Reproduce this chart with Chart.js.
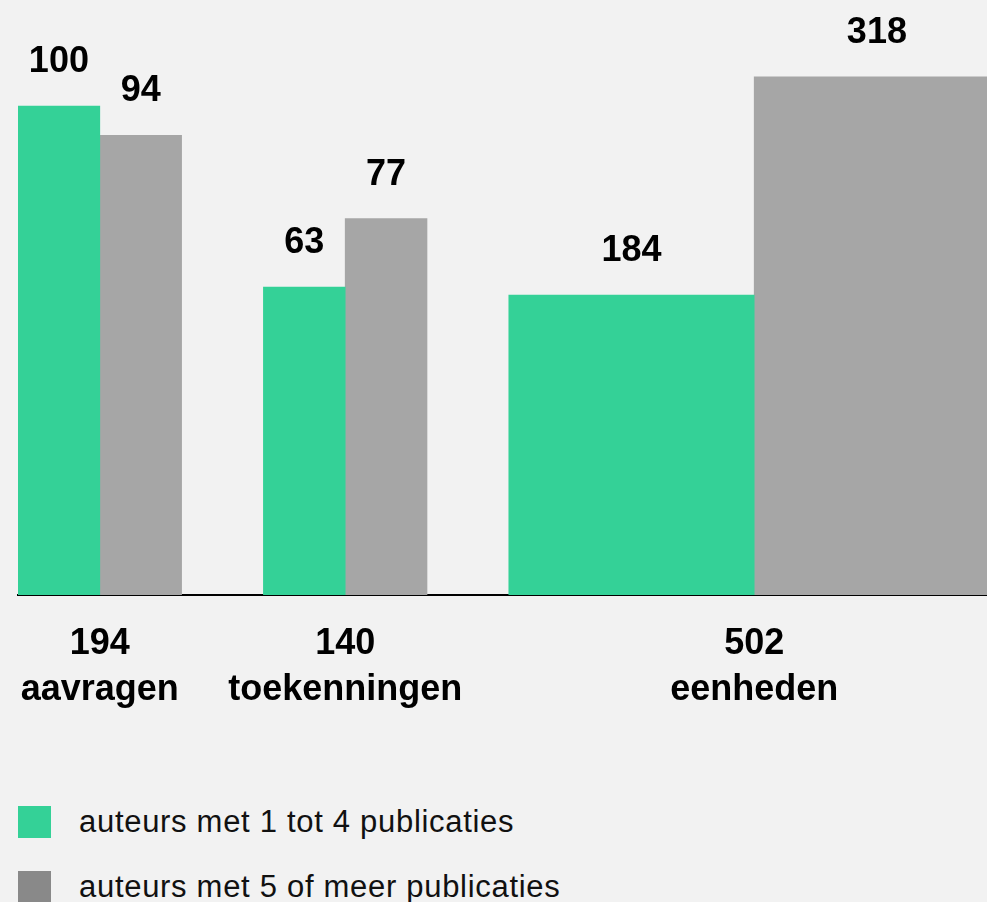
<!DOCTYPE html>
<html lang="nl">
<head>
<meta charset="utf-8">
<title>Auteurs en publicaties</title>
<script src="https://cdn.jsdelivr.net/npm/chart.js@4.4.1/dist/chart.umd.min.js"></script>
<style>
    html, body { margin: 0; padding: 0; background: #f2f2f2; overflow: hidden; }
    body { width: 987px; height: 902px; position: relative; font-family: "Liberation Sans", Arial, sans-serif; }
    #grafiek-container { position: absolute; left: 0; top: 0; width: 987px; height: 720px; }
    #legenda { position: absolute; left: 18px; top: 806px; }
    .legenda-item { display: flex; align-items: flex-start; height: 65px; }
    .legenda-blok { width: 33px; height: 32px; flex: none; }
    .legenda-tekst { margin-left: 28px; font-size: 31px; letter-spacing: 0.7px; line-height: 32px; color: #111; white-space: nowrap; }
</style>
</head>
<body>
<div id="grafiek-container"><canvas id="grafiek"></canvas></div>
<div id="legenda"></div>

<script>
// ==================== DATOS ====================
const groepen = ['aavragen', 'toekenningen', 'eenheden'];
const totalen = [194, 140, 502];
const auteurs1tot4 = [100, 63, 184];
const auteurs5ofMeer = [94, 77, 318];
const reeksLabels = ['auteurs met 1 tot 4 publicaties', 'auteurs met 5 of meer publicaties'];

// ==================== ESTILO ====================
const kleurGroen = '#34d197';
const kleurGrijs = '#a6a6a6';
const kleurGrijsLegenda = '#898989';
const lettertype = '"Liberation Sans", Arial, sans-serif';
const breedte = [1, 1, 3];   // breedte van een staaf per groep, in vakken (oppervlak ~ waarde)
const vakPx = 81.8;          // pixels per vak
const linksPx = 18;
const yMax = 121.7;

// middenpunt van elke groep in vakken: staaf, staaf, dan 1 vak ruimte
let pos = 0;
const centra = breedte.map(b => {
    const c = pos + b;
    pos += 2 * b + 1;
    return c;
});

const datasets = [];
groepen.forEach((groep, i) => {
    const b = breedte[i];
    datasets.push({
        label: reeksLabels[0],
        data: [{ x: centra[i] - b / 2, y: auteurs1tot4[i] }],
        backgroundColor: kleurGroen,
        barThickness: b * vakPx,
        grouped: false,
        yAxisID: 'y' + i
    });
    datasets.push({
        label: reeksLabels[1],
        data: [{ x: centra[i] + b / 2, y: auteurs5ofMeer[i] }],
        backgroundColor: kleurGrijs,
        barThickness: b * vakPx,
        grouped: false,
        yAxisID: 'y' + i
    });
});

const scales = {
    x: {
        type: 'linear',
        bounds: 'data',
        offset: false,
        min: 0,
        max: (987 - linksPx) / vakPx,
        grid: { display: false, drawTicks: false, offset: false },
        border: { display: true, color: '#000', width: 2 },
        afterDataLimits: (scale) => {
            scale.min = 0;
            scale.max = (987 - linksPx) / vakPx;
        },
        afterBuildTicks: (scale) => {
            scale.ticks = centra.map(v => ({ value: v }));
        },
        afterFit: (scale) => {
            scale.height = 125;
            scale.paddingLeft = 0;   // labels passen al, geen extra ruimte
            scale.paddingRight = 0;
        },
        ticks: {
            autoSkip: false,
            maxRotation: 0,
            padding: 26,
            color: '#000',
            font: { family: lettertype, size: 36, weight: 'bold', lineHeight: 1.28 },
            callback: (value) => {
                const i = centra.indexOf(value);
                return i < 0 ? '' : [String(totalen[i]), groepen[i]];
            }
        }
    }
};
// elke groep zijn eigen schaal: bredere staaf => lagere staaf
groepen.forEach((g, i) => {
    scales['y' + i] = { display: false, min: 0, max: yMax * breedte[i] };
});

const waardeLabels = {
    id: 'waardeLabels',
    afterDatasetsDraw(chart) {
        const ctx = chart.ctx;
        ctx.save();
        ctx.font = 'bold 36px ' + lettertype;
        ctx.fillStyle = '#000';
        ctx.textAlign = 'center';
        ctx.textBaseline = 'alphabetic';
        chart.data.datasets.forEach((ds, i) => {
            chart.getDatasetMeta(i).data.forEach((bar, j) => {
                ctx.fillText(String(ds.data[j].y), bar.x, bar.y - 34);
            });
        });
        ctx.restore();
    }
};

new Chart(document.getElementById('grafiek').getContext('2d'), {
    type: 'bar',
    data: { datasets },
    options: {
        responsive: true,
        maintainAspectRatio: false,
        animation: false,
        layout: { padding: { left: linksPx, right: 0, top: 0, bottom: 0 } },
        scales,
        plugins: {
            legend: { display: false },
            tooltip: { enabled: false }
        }
    },
    plugins: [waardeLabels]
});

// legenda
const legenda = document.getElementById('legenda');
[kleurGroen, kleurGrijsLegenda].forEach((kleur, i) => {
    const item = document.createElement('div');
    item.className = 'legenda-item';
    const blok = document.createElement('div');
    blok.className = 'legenda-blok';
    blok.style.background = kleur;
    const tekst = document.createElement('span');
    tekst.className = 'legenda-tekst';
    tekst.textContent = reeksLabels[i];
    item.appendChild(blok);
    item.appendChild(tekst);
    legenda.appendChild(item);
});
</script>
</body>
</html>
